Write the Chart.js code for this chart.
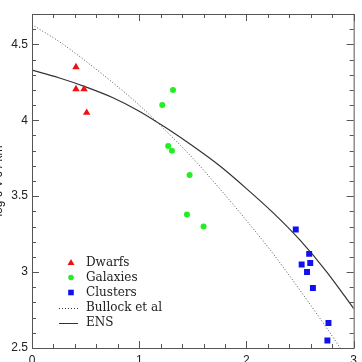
<!DOCTYPE html>
<html>
<head>
<meta charset="utf-8">
<script src="https://cdn.jsdelivr.net/npm/chart.js@4.4.0/dist/chart.umd.min.js"></script>
<style>
  html, body { margin: 0; padding: 0; background: #fff; }
  body { width: 362px; height: 362px; overflow: hidden; position: relative; }
  #chart { position: absolute; left: -20px; top: 0; }
</style>
</head>
<body>
<canvas id="chart" width="382" height="380"></canvas>
<script>
// data
const dwarfsX = [0.41, 0.41, 0.485, 0.51];
const dwarfsY = [4.35, 4.205, 4.205, 4.05];

const galaxiesX = [1.215, 1.315, 1.27, 1.305, 1.47, 1.445, 1.6];
const galaxiesY = [4.10, 4.20, 3.83, 3.80, 3.64, 3.38, 3.30];

const clustersX = [2.46, 2.585, 2.515, 2.595, 2.565, 2.62, 2.765, 2.755];
const clustersY = [3.28, 3.12, 3.05, 3.06, 3.00, 2.895, 2.665, 2.55];

const curveX = [0, 0.25, 0.5, 0.75, 1.0, 1.25, 1.5, 1.75, 2.0, 2.25, 2.5, 2.75, 3.0];
const bullockY = [4.63, 4.52, 4.39, 4.25, 4.10, 3.93, 3.75, 3.55, 3.34, 3.12, 2.88, 2.63, 2.37];
const ensY = [4.33, 4.28, 4.22, 4.15, 4.06, 3.95, 3.83, 3.70, 3.55, 3.39, 3.21, 3.00, 2.76];

const xTicks = [0, 1, 2, 3];
const xMinor = [0.2, 0.4, 0.6, 0.8, 1.2, 1.4, 1.6, 1.8, 2.2, 2.4, 2.6, 2.8];
const yTicks = [2.5, 3, 3.5, 4, 4.5];
const yMinor = [2.6, 2.7, 2.8, 2.9, 3.1, 3.2, 3.3, 3.4, 3.6, 3.7, 3.8, 3.9,
                4.1, 4.2, 4.3, 4.4, 4.6, 4.7];

const labels = ['Dwarfs', 'Galaxies', 'Clusters', 'Bullock et al', 'ENS'];

const pts = (xs, ys) => xs.map((x, i) => ({ x: x, y: ys[i] }));

const RED = '#ee1111', GREEN = '#22ee22', BLUE = '#1111ee', INK = '#333';

// frame + inward ticks on all four sides
const framePlugin = {
  id: 'frame',
  afterDraw(chart) {
    const { ctx, chartArea: a, scales } = chart;
    ctx.save();
    ctx.strokeStyle = '#555';
    ctx.lineWidth = 1;
    ctx.strokeRect(a.left + 0.5, a.top + 0.5, a.right - a.left, a.bottom - a.top);
    ctx.beginPath();
    const tx = (v, len) => {
      const p = Math.round(scales.x.getPixelForValue(v)) + 0.5;
      ctx.moveTo(p, a.bottom); ctx.lineTo(p, a.bottom - len);
      ctx.moveTo(p, a.top); ctx.lineTo(p, a.top + len);
    };
    const ty = (v, len) => {
      const p = Math.round(scales.y.getPixelForValue(v)) + 0.5;
      ctx.moveTo(a.left, p); ctx.lineTo(a.left + len, p);
      ctx.moveTo(a.right, p); ctx.lineTo(a.right - len, p);
    };
    xTicks.forEach(v => tx(v, 7));
    xMinor.forEach(v => tx(v, 4));
    yTicks.forEach(v => ty(v, 7));
    yMinor.forEach(v => ty(v, 4));
    ctx.stroke();
    ctx.restore();
  }
};

// legend in the lower left of the plot
const legendPlugin = {
  id: 'innerLegend',
  afterDraw(chart) {
    const { ctx, chartArea: a } = chart;
    const sx = a.left + 39, tx = a.left + 54;
    ctx.save();
    ctx.font = '12px "DejaVu Serif"';
    ctx.textBaseline = 'middle';
    labels.forEach((t, i) => {
      const y = a.top + 248.5 + i * 15;
      ctx.fillStyle = '#222';
      ctx.fillText(t, tx, y);
      if (i === 0) {
        ctx.fillStyle = RED;
        ctx.beginPath();
        ctx.moveTo(sx, y - 3.5); ctx.lineTo(sx + 3.5, y + 2.5); ctx.lineTo(sx - 3.5, y + 2.5);
        ctx.closePath(); ctx.fill();
      } else if (i === 1) {
        ctx.fillStyle = GREEN;
        ctx.beginPath(); ctx.arc(sx, y, 2.8, 0, Math.PI * 2); ctx.fill();
      } else if (i === 2) {
        ctx.fillStyle = BLUE;
        ctx.fillRect(sx - 2.8, y - 2.8, 5.6, 5.6);
      } else {
        ctx.strokeStyle = INK;
        ctx.lineWidth = 1;
        ctx.setLineDash(i === 3 ? [1, 2] : []);
        ctx.beginPath();
        ctx.moveTo(a.left + 27, Math.round(y) + 0.5);
        ctx.lineTo(a.left + 46, Math.round(y) + 0.5);
        ctx.stroke();
        ctx.setLineDash([]);
      }
    });
    ctx.restore();
  }
};

new Chart(document.getElementById('chart'), {
  type: 'scatter',
  data: {
    datasets: [
      { label: labels[0], data: pts(dwarfsX, dwarfsY), pointStyle: 'triangle',
        pointRadius: 4.3, backgroundColor: RED, borderColor: RED, borderWidth: 0 },
      { label: labels[1], data: pts(galaxiesX, galaxiesY), pointStyle: 'circle',
        pointRadius: 3, backgroundColor: GREEN, borderColor: GREEN, borderWidth: 0 },
      { label: labels[2], data: pts(clustersX, clustersY), pointStyle: 'rect',
        pointRadius: 4.2, backgroundColor: BLUE, borderColor: BLUE, borderWidth: 0 },
      { label: labels[3], type: 'line', data: pts(curveX, bullockY), showLine: true,
        borderColor: '#555', borderWidth: 1, borderDash: [1, 2], pointRadius: 0,
        cubicInterpolationMode: 'monotone', fill: false },
      { label: labels[4], type: 'line', data: pts(curveX, ensY), showLine: true,
        borderColor: INK, borderWidth: 1.2, pointRadius: 0,
        cubicInterpolationMode: 'monotone', fill: false }
    ]
  },
  options: {
    responsive: false,
    animation: false,
    events: [],
    layout: { padding: { top: 14, right: 8, left: 0, bottom: 0 } },
    plugins: { legend: { display: false }, tooltip: { enabled: false } },
    scales: {
      x: {
        type: 'linear', min: 0, max: 3,
        afterBuildTicks: s => { s.ticks = xTicks.map(v => ({ value: v })); },
        afterFit: s => { s.height = 32; },
        grid: { display: false, drawTicks: false },
        border: { display: false },
        ticks: { padding: 5, color: '#222', font: { family: '"Liberation Sans"', size: 12 },
                 maxRotation: 0, callback: v => String(v) }
      },
      y: {
        type: 'linear', min: 2.5, max: 4.7,
        afterBuildTicks: s => { s.ticks = yTicks.map(v => ({ value: v })); },
        afterFit: s => { s.width = 52; },
        grid: { display: false, drawTicks: false },
        border: { display: false },
        ticks: { padding: 4, color: '#222', font: { family: '"Liberation Sans"', size: 12 },
                 callback: v => String(v) },
        title: { display: true, text: 'log c V\u2009c / km', color: '#222',
                 padding: { top: 11, bottom: 0 },
                 font: { family: '"Liberation Sans"', size: 12 } }
      }
    }
  },
  plugins: [framePlugin, legendPlugin]
});
</script>
</body>
</html>
